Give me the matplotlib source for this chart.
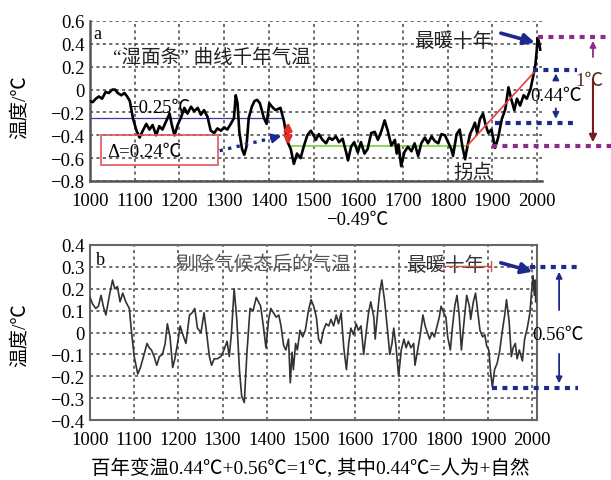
import matplotlib
matplotlib.use('Agg')
import matplotlib.pyplot as plt
from matplotlib.patches import Rectangle

plt.rcParams['font.family'] = ['Liberation Serif', 'Noto Sans CJK SC']
plt.rcParams['axes.unicode_minus'] = True

# ---------------- data ----------------
a_years = [1000, 1006, 1013, 1020, 1027, 1035, 1042, 1050, 1056, 1062, 1070, 1077, 1083, 1089,
           1096, 1104, 1111, 1118, 1126, 1133, 1140, 1148, 1155, 1162, 1170, 1178, 1183, 1189,
           1196, 1204, 1211, 1218, 1226, 1233, 1241, 1248, 1255, 1263, 1270, 1278, 1285, 1293,
           1300, 1307, 1315, 1322, 1326, 1330, 1334, 1340, 1345, 1350, 1355, 1362, 1368, 1374,
           1380, 1389, 1395, 1401, 1407, 1415, 1426, 1434, 1441, 1449, 1456, 1463, 1471, 1478,
           1486, 1494, 1500, 1505, 1512, 1520, 1528, 1535, 1542, 1550, 1557, 1565, 1573, 1577,
           1584, 1591, 1599, 1606, 1614, 1621, 1629, 1637, 1644, 1652, 1659, 1666, 1674, 1682,
           1686, 1690, 1696, 1703, 1711, 1719, 1726, 1734, 1741, 1749, 1756, 1764, 1771, 1779,
           1786, 1794, 1801, 1808, 1812, 1820, 1827, 1833, 1839, 1844, 1850, 1856, 1861, 1866,
           1872, 1879, 1885, 1891, 1898, 1906, 1913, 1921, 1929, 1936, 1942, 1949, 1955, 1962,
           1970, 1977, 1985, 1991, 1996, 1999, 2001, 2004, 2007]
a_vals = [-0.10, -0.11, -0.08, -0.06, -0.08, -0.02, -0.03, 0.00, 0.00, -0.03, -0.05, -0.03, -0.06, -0.10,
          -0.25, -0.36, -0.42, -0.36, -0.30, -0.35, -0.31, -0.40, -0.32, -0.35, -0.28, -0.21, -0.31, -0.40,
          -0.31, -0.24, -0.16, -0.21, -0.15, -0.19, -0.16, -0.22, -0.18, -0.24, -0.36, -0.38, -0.34, -0.36,
          -0.33, -0.35, -0.30, -0.25, -0.05, -0.12, -0.37, -0.52, -0.57, -0.50, -0.25, -0.15, -0.10, -0.09,
          -0.12, -0.25, -0.30, -0.12, -0.15, -0.18, -0.16, -0.28, -0.45, -0.52, -0.65, -0.56, -0.60, -0.50,
          -0.40, -0.36, -0.40, -0.44, -0.39, -0.44, -0.47, -0.42, -0.44, -0.41, -0.46, -0.43, -0.55, -0.62,
          -0.50, -0.46, -0.55, -0.46, -0.56, -0.52, -0.38, -0.37, -0.44, -0.36, -0.27, -0.36, -0.49, -0.44,
          -0.56, -0.48, -0.67, -0.55, -0.50, -0.54, -0.47, -0.58, -0.47, -0.42, -0.47, -0.41, -0.45, -0.47,
          -0.39, -0.40, -0.46, -0.52, -0.58, -0.39, -0.35, -0.50, -0.61, -0.50, -0.39, -0.34, -0.29, -0.38,
          -0.26, -0.21, -0.31, -0.38, -0.35, -0.51, -0.42, -0.26, -0.17, 0.02, -0.08, -0.18, -0.08, -0.14,
          -0.05, -0.08, 0.00, 0.11, 0.21, 0.33, 0.45, 0.42, 0.35]

b_years = [1000, 1006, 1013, 1019, 1025, 1030, 1036, 1043, 1051, 1056, 1062, 1068, 1074, 1081, 1089,
           1094, 1100, 1104, 1108, 1114, 1121, 1129, 1134, 1139, 1145, 1151, 1157, 1164, 1170, 1175,
           1181, 1187, 1192, 1198, 1204, 1210, 1217, 1225, 1231, 1237, 1243, 1251, 1258, 1263, 1270,
           1275, 1281, 1288, 1296, 1303, 1310, 1315, 1320, 1326, 1332, 1338, 1343, 1349, 1355, 1362,
           1369, 1376, 1386, 1392, 1398, 1404, 1409, 1415, 1421, 1427, 1432, 1438, 1443, 1449, 1453,
           1457, 1460, 1465, 1469, 1475, 1481, 1487, 1494, 1500, 1506, 1512, 1517, 1522, 1528, 1534,
           1540, 1545, 1551, 1557, 1562, 1568, 1574, 1580, 1585, 1590, 1596, 1602, 1607, 1613, 1619,
           1624, 1630, 1635, 1642, 1645, 1651, 1655, 1660, 1666, 1672, 1678, 1683, 1687, 1692, 1698,
           1704, 1710, 1715, 1720, 1726, 1732, 1735, 1741, 1747, 1753, 1758, 1763, 1768, 1774, 1779,
           1785, 1790, 1794, 1800, 1805, 1809, 1815, 1820, 1825, 1830, 1835, 1840, 1846, 1852, 1858,
           1861, 1867, 1872, 1878, 1882, 1888, 1893, 1897, 1902, 1906, 1910, 1915, 1921, 1927, 1932,
           1938, 1942, 1948, 1953, 1957, 1962, 1966, 1971, 1978, 1983, 1989, 1995, 1998, 2002, 2005,
           2007, 2008]
b_vals = [0.16, 0.13, 0.11, 0.12, 0.17, 0.12, 0.08, 0.16, 0.24, 0.20, 0.21, 0.14, 0.18, 0.14, 0.11,
          0.00, -0.11, -0.15, -0.19, -0.16, -0.11, -0.05, -0.07, -0.08, -0.11, -0.15, -0.11, -0.10, -0.05, 0.04,
          -0.02, -0.16, -0.12, -0.05, 0.03, -0.01, -0.05, 0.08, 0.09, 0.11, 0.02, 0.00, 0.09, 0.01, -0.11,
          -0.15, -0.12, -0.12, -0.11, -0.08, -0.04, -0.11, 0.00, 0.20, 0.06, -0.17, -0.29, -0.32, -0.09, 0.11,
          0.10, 0.16, 0.12, 0.03, -0.07, 0.06, 0.11, 0.09, 0.07, 0.08, 0.03, -0.06, -0.08, -0.03, -0.23,
          -0.09, -0.17, -0.05, -0.08, 0.01, -0.02, 0.01, 0.10, 0.15, 0.12, 0.07, -0.03, -0.05, 0.01, 0.04,
          0.03, 0.06, 0.03, 0.08, 0.04, 0.09, -0.07, -0.17, -0.05, 0.02, -0.01, 0.04, 0.01, 0.03, -0.10,
          -0.01, 0.09, 0.14, 0.07, -0.03, 0.10, 0.18, 0.24, 0.15, 0.03, -0.10, -0.05, 0.02, -0.06, -0.20,
          -0.08, -0.03, -0.07, -0.04, -0.07, -0.05, -0.15, -0.08, -0.01, 0.08, 0.03, 0.00, -0.03, 0.00, -0.02,
          0.03, 0.07, 0.12, 0.09, 0.07, -0.02, -0.08, 0.03, 0.12, 0.17, 0.08, -0.08, 0.05, 0.17, 0.12,
          0.06, 0.14, 0.18, 0.08, 0.01, -0.02, -0.01, -0.06, -0.08, -0.18, -0.25, -0.17, -0.14, -0.08, 0.00,
          0.08, 0.15, 0.05, -0.11, -0.07, -0.05, -0.12, -0.08, -0.13, -0.03, 0.02, 0.09, 0.17, 0.26, 0.17,
          0.24, 0.14]

x_ticks = [1000, 1100, 1200, 1300, 1400, 1500, 1600, 1700, 1800, 1900, 2000]
x_labels = [str(t) for t in x_ticks]
a_yticks = [0.6, 0.4, 0.2, 0, -0.2, -0.4, -0.6, -0.8]
a_ylabels = ['0.6', '0.4', '0.2', '0', '\u22120.2', '\u22120.4', '\u22120.6', '\u22120.8']
b_yticks = [0.4, 0.3, 0.2, 0.1, 0, -0.1, -0.2, -0.3, -0.4]
b_ylabels = ['0.4', '0.3', '0.2', '0.1', '0', '\u22120.1', '\u22120.2', '\u22120.3', '\u22120.4']

mean_early = -0.25     # blue reference line
mean_flat = -0.49      # green plateau
turn_year = 1844
trend_end = (2000, 0.18)
warm_top = 0.46
a_blue_lvls = [0.175, -0.29]
b_top, b_bot = 0.30, -0.255

# ---------------- figure ----------------
W, H = 611, 481
fig = plt.figure(figsize=(W / 100, H / 100), dpi=100)
axa = fig.add_axes([90 / W, 1 - 182 / H, (542 - 90) / W, 160 / H])
axb = fig.add_axes([90 / W, 1 - 421 / H, (537 - 90) / W, 175 / H])

grid_kw = dict(color='#444444', linestyle=(0, (2.0, 2.2)), linewidth=1.1)
tick_font = 13.5
cjk = 14

NAVY = '#1b2a8c'
PURP = '#8e2a88'
RED = '#e0302a'

for ax, yt, yl, ylim, pad_x in [(axa, a_yticks, a_ylabels, (-0.8, 0.6), 8),
                                 (axb, b_yticks, b_ylabels, (-0.4, 0.4), 8)]:
    ax.set_xlim(1000, 2011)
    ax.set_ylim(*ylim)
    ax.set_xticks(x_ticks)
    ax.set_xticklabels(x_labels, fontsize=tick_font)
    ax.set_yticks(yt)
    ax.set_yticklabels(yl, fontsize=tick_font)
    ax.tick_params(length=0, pad=4)
    ax.tick_params(axis='x', pad=pad_x)
    ax.grid(True, **grid_kw)
    ax.set_axisbelow(True)

# panel a spines
for s in ['top', 'right']:
    axa.spines[s].set_visible(False)
for s in ['left', 'bottom']:
    axa.spines[s].set_color('#555555')
    axa.spines[s].set_linewidth(1.8)
for s in axb.spines.values():
    s.set_color('#666666')
    s.set_linewidth(1.5)

# ---------------- panel a ----------------
axa.axhline(mean_early, xmin=0, xmax=(1432 - 1000) / 1011, color='#3a3aa0', lw=0.9, zorder=2)
axa.plot([1450, turn_year], [mean_flat, mean_flat], color='#7fd040', lw=1.2, zorder=2)
axa.plot([turn_year, trend_end[0]], [mean_flat, trend_end[1]], color='#e84040', lw=1.2, zorder=4)
axa.plot(a_years, a_vals, color='black', lw=1.9, zorder=3)

axa.text(1016, 0.49, 'a', fontsize=13, ha='center', va='center')
axa.text(1273, 0.29, '\u201c湿面条\u201d 曲线千年气温', fontsize=cjk, ha='center', va='center',
         color='#222222')
axa.text(1154, -0.155, '\u22120.25\u2103', fontsize=tick_font, ha='center', va='center')
axa.add_patch(Rectangle((1024, -0.66), 263, 0.26, fill=False, edgecolor='#e05858', lw=1.2, zorder=5))
axa.text(1121, -0.54, '\u0394=0.24\u2103', fontsize=tick_font, ha='center', va='center')
# blue dotted arrow
axa.plot([1290, 1412], [-0.535, -0.42], color=NAVY, lw=2.4, linestyle=(0, (1, 1.6)), zorder=5)
axa.annotate('', xy=(1434, -0.40), xytext=(1408, -0.425),
             arrowprops=dict(arrowstyle='-|>', color=NAVY, lw=1.5, mutation_scale=14), zorder=5)
# red double arrow
axa.annotate('', xy=(1443, -0.26), xytext=(1443, -0.51),
             arrowprops=dict(arrowstyle='<|-|>', color=RED, lw=2.2, mutation_scale=11), zorder=6)
axa.text(1857, -0.72, '拐点', fontsize=cjk, ha='center', va='center', color='#222222')
axa.text(1812, 0.43, '最暖十年', fontsize=cjk, ha='center', va='center', color='#222222')
axa.annotate('', xy=(2001, 0.405), xytext=(1913, 0.50),
             arrowprops=dict(arrowstyle='-|>', color=NAVY, lw=2.6, mutation_scale=16),
             annotation_clip=False, zorder=6)
axa.text(1597, -1.14, '\u22120.49\u2103', fontsize=tick_font, ha='center', va='center',
         clip_on=False)

dot_kw = dict(lw=3.0, linestyle=(0, (1.2, 1.3)), clip_on=False, zorder=6)
axa.plot([2003, 2166], [warm_top, warm_top], color=PURP, **dot_kw)
axa.plot([1899, 2166], [mean_flat, mean_flat], color=PURP, **dot_kw)
axa.plot([1991, 2089], [a_blue_lvls[0], a_blue_lvls[0]], color=NAVY, **dot_kw)
axa.plot([1906, 2089], [a_blue_lvls[1], a_blue_lvls[1]], color=NAVY, **dot_kw)

axa.annotate('', xy=(2042, a_blue_lvls[0] - 0.01), xytext=(2042, 0.075),
             arrowprops=dict(arrowstyle='-|>', color=NAVY, lw=1.3, mutation_scale=9),
             annotation_clip=False)
axa.annotate('', xy=(2042, a_blue_lvls[1] + 0.01), xytext=(2042, -0.14),
             arrowprops=dict(arrowstyle='-|>', color=NAVY, lw=1.3, mutation_scale=9),
             annotation_clip=False)
axa.text(2042, -0.05, '0.44\u2103', fontsize=tick_font, ha='center', va='center', clip_on=False)

axa.annotate('', xy=(2125, warm_top - 0.01), xytext=(2125, 0.26),
             arrowprops=dict(arrowstyle='-|>', color=PURP, lw=1.3, mutation_scale=9),
             annotation_clip=False)
axa.annotate('', xy=(2125, mean_flat + 0.005), xytext=(2125, 0.12),
             arrowprops=dict(arrowstyle='-|>', color='#7a1a1a', lw=1.5, mutation_scale=11),
             annotation_clip=False)
axa.text(2118, 0.08, '1\u2103', fontsize=tick_font, ha='center', va='center', color='#5a2a1a',
         clip_on=False)

# ---------------- panel b ----------------
axb.plot(b_years, b_vals, color='#333333', lw=1.2, zorder=3)
axb.text(1023, 0.335, 'b', fontsize=13, ha='center', va='center')
axb.text(1391, 0.315, '剔除气候态后的气温', fontsize=cjk, ha='center', va='center', color='#555555',
         zorder=1)
axb.text(1803, 0.31, '最暖十年', fontsize=cjk, ha='center', va='center', color='#333333')
axb.plot([1800, 1908], [0.303, 0.303], color='#e05040', lw=1.0, zorder=4)
axb.plot([1906, 1906], [0.28, 0.325], color='#e05040', lw=1.0, zorder=4)
axb.annotate('', xy=(2007, 0.275), xytext=(1923, 0.322),
             arrowprops=dict(arrowstyle='-|>', color=NAVY, lw=2.6, mutation_scale=16),
             annotation_clip=False, zorder=6)
axb.plot([1995, 2104], [b_top, b_top], color=NAVY, **dot_kw)
axb.plot([1909, 2104], [b_bot, b_bot], color=NAVY, **dot_kw)
axb.annotate('', xy=(2061, b_top - 0.01), xytext=(2061, 0.09),
             arrowprops=dict(arrowstyle='-|>', color=NAVY, lw=1.3, mutation_scale=9),
             annotation_clip=False)
axb.annotate('', xy=(2061, b_bot + 0.01), xytext=(2061, -0.085),
             arrowprops=dict(arrowstyle='-|>', color=NAVY, lw=1.3, mutation_scale=9),
             annotation_clip=False)
axb.text(2058, -0.01, '0.56\u2103', fontsize=tick_font, ha='center', va='center', clip_on=False)

# ---------------- figure texts ----------------
fig.text(20 / W, 1 - 107 / H, '温度/\u2103', rotation=90, ha='center', va='center', fontsize=cjk)
fig.text(20 / W, 1 - 335 / H, '温度/\u2103', rotation=90, ha='center', va='center', fontsize=cjk)
fig.text(310 / W, 1 - 468 / H, '百年变温0.44\u2103+0.56\u2103=1\u2103, 其中0.44\u2103=人为+自然',
         ha='center', va='center', fontsize=cjk)

fig.savefig('out.png', dpi=100)
